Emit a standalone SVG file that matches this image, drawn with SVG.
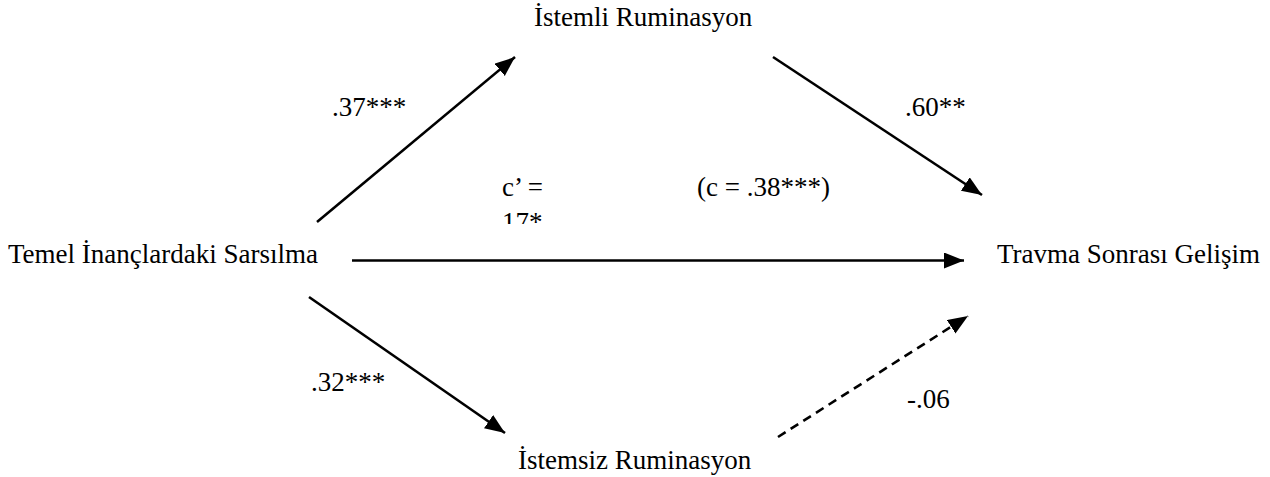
<svg xmlns="http://www.w3.org/2000/svg" width="1270" height="477" viewBox="0 0 1270 477">
<style>
text{font-family:"Liberation Serif","Times New Roman",serif;font-size:27px;fill:#000}
.c{stroke:#000;stroke-width:2.6;fill:none}
.d{stroke-dasharray:9 6}
</style>
<defs>
<marker id="ah" markerUnits="userSpaceOnUse" markerWidth="22" markerHeight="18" refX="20" refY="8" orient="auto"><path d="M0,0 L20,8 L0,16 z" fill="#000"/></marker>
<clipPath id="cl"><rect x="480" y="200" width="100" height="24"/></clipPath>
</defs>
<g id="connectors">
<line class="c" x1="317" y1="222" x2="515" y2="57" marker-end="url(#ah)"/>
<line class="c" x1="773" y1="57" x2="982" y2="195" marker-end="url(#ah)"/>
<line class="c" x1="352" y1="260.5" x2="964" y2="260.5" marker-end="url(#ah)"/>
<line class="c" x1="309" y1="297" x2="505" y2="433" marker-end="url(#ah)"/>
<line class="c d" x1="778" y1="437" x2="968" y2="316" marker-end="url(#ah)"/>
</g>
<g id="n_istemli"><text x="534" y="26">İstemli Ruminasyon</text></g>
<g id="n_temel"><text x="8" y="263">Temel İnançlardaki Sarsılma</text></g>
<g id="n_travma"><text x="997" y="263">Travma Sonrası Gelişim</text></g>
<g id="n_istemsiz"><text x="518" y="469">İstemsiz Ruminasyon</text></g>
<g id="labels">
<text x="332" y="116">.37***</text>
<text x="905" y="116">.60**</text>
<text x="502" y="196">c’ =</text>
<text x="502" y="231" clip-path="url(#cl)">17*</text>
<text x="697" y="196">(c = .38***)</text>
<text x="311" y="391">.32***</text>
<text x="907" y="408">-.06</text>
</g>
</svg>
